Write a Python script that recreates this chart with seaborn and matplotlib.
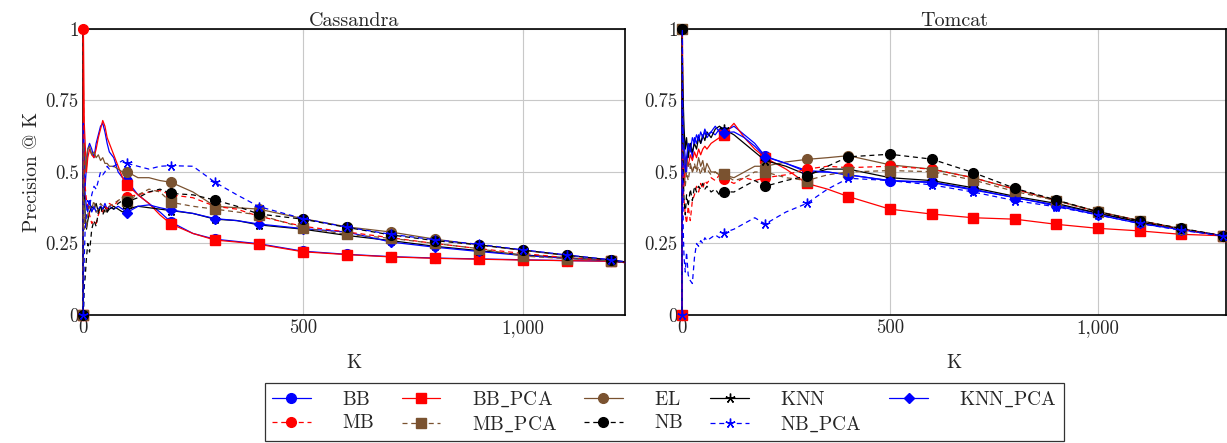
import matplotlib
matplotlib.use("Agg")
import matplotlib.pyplot as plt
from matplotlib.ticker import FuncFormatter, FixedLocator
import seaborn as sns

# ---- data ----
methods = ["BB", "BB_PCA", "EL", "KNN", "KNN_PCA", "MB", "MB_PCA", "NB", "NB_PCA"]

k_cas = [0, 1, 3, 5, 8, 11, 15, 20, 25, 30, 35, 40, 45, 50, 55, 60, 70, 80, 90, 100,
         125, 150, 175, 200, 250, 300, 350, 400, 500, 600, 700, 800, 900, 1000, 1100, 1200, 1232]

cas_bb = [0, 0.67, 0.5, 0.45, 0.52, 0.58, 0.6, 0.58, 0.55, 0.6, 0.63, 0.66, 0.67, 0.64, 0.6, 0.57, 0.55, 0.5, 0.48, 0.47,
          0.42, 0.39, 0.36, 0.325, 0.285, 0.265, 0.257, 0.249, 0.223, 0.212, 0.204, 0.199, 0.196, 0.193, 0.19, 0.188, 0.183]
cas_bb_pca = [0, 1.0, 0.67, 0.6, 0.5, 0.55, 0.58, 0.56, 0.55, 0.58, 0.62, 0.65, 0.68, 0.66, 0.62, 0.6, 0.56, 0.52, 0.48, 0.455,
              0.42, 0.39, 0.35, 0.318, 0.285, 0.262, 0.255, 0.247, 0.221, 0.211, 0.203, 0.198, 0.195, 0.192, 0.19, 0.188, 0.183]
cas_el = [0, 0.5, 0.6, 0.5, 0.55, 0.58, 0.59, 0.56, 0.57, 0.55, 0.56, 0.54, 0.55, 0.53, 0.53, 0.52, 0.52, 0.51, 0.5, 0.501,
          0.48, 0.48, 0.47, 0.464, 0.43, 0.38, 0.375, 0.37, 0.337, 0.308, 0.29, 0.265, 0.245, 0.226, 0.208, 0.193, 0.186]
cas_knn = [0, 0.5, 0.45, 0.35, 0.3, 0.33, 0.36, 0.38, 0.37, 0.39, 0.36, 0.38, 0.37, 0.38, 0.36, 0.37, 0.38, 0.37, 0.36, 0.37,
           0.38, 0.375, 0.37, 0.365, 0.355, 0.335, 0.33, 0.315, 0.3, 0.278, 0.26, 0.24, 0.225, 0.21, 0.2, 0.19, 0.184]
cas_knn_pca = [0, 0.67, 0.5, 0.42, 0.38, 0.36, 0.4, 0.36, 0.38, 0.36, 0.37, 0.38, 0.37, 0.39, 0.37, 0.38, 0.37, 0.38, 0.37, 0.358,
               0.38, 0.385, 0.375, 0.367, 0.355, 0.337, 0.33, 0.318, 0.302, 0.29, 0.255, 0.237, 0.222, 0.208, 0.198, 0.19, 0.184]
cas_mb = [1, 0.8, 0.5, 0.45, 0.4, 0.38, 0.35, 0.32, 0.33, 0.32, 0.35, 0.37, 0.36, 0.38, 0.37, 0.39, 0.38, 0.4, 0.41, 0.414,
          0.42, 0.43, 0.435, 0.42, 0.41, 0.38, 0.37, 0.345, 0.31, 0.29, 0.27, 0.25, 0.232, 0.215, 0.2, 0.19, 0.184]
cas_mb_pca = [0, 0.6, 0.3, 0.35, 0.3, 0.35, 0.38, 0.37, 0.4, 0.36, 0.37, 0.39, 0.38, 0.36, 0.37, 0.38, 0.39, 0.4, 0.41, 0.4,
              0.42, 0.44, 0.43, 0.394, 0.38, 0.37, 0.36, 0.35, 0.305, 0.282, 0.268, 0.25, 0.232, 0.206, 0.197, 0.19, 0.184]
cas_nb = [0, 0.0, 0.1, 0.13, 0.2, 0.25, 0.22, 0.3, 0.33, 0.31, 0.36, 0.38, 0.35, 0.37, 0.36, 0.38, 0.37, 0.39, 0.4, 0.396,
          0.41, 0.43, 0.44, 0.425, 0.42, 0.402, 0.38, 0.353, 0.335, 0.306, 0.28, 0.26, 0.245, 0.227, 0.209, 0.192, 0.185]
cas_nb_pca = [0, 0.0, 0.2, 0.3, 0.35, 0.4, 0.38, 0.42, 0.45, 0.44, 0.47, 0.5, 0.49, 0.5, 0.52, 0.51, 0.52, 0.53, 0.54, 0.53,
              0.52, 0.51, 0.52, 0.522, 0.52, 0.464, 0.42, 0.379, 0.337, 0.307, 0.282, 0.263, 0.247, 0.228, 0.21, 0.193, 0.186]

k_tom = [0, 1, 3, 5, 8, 11, 15, 20, 25, 30, 35, 40, 45, 50, 55, 60, 70, 80, 90, 100,
         125, 150, 175, 200, 250, 300, 350, 400, 500, 600, 700, 800, 900, 1000, 1100, 1200, 1300, 1308]

tom_bb = [0, 0.8, 0.7, 0.6, 0.55, 0.5, 0.58, 0.6, 0.55, 0.62, 0.6, 0.63, 0.6, 0.62, 0.64, 0.62, 0.64, 0.63, 0.65, 0.64,
          0.66, 0.63, 0.6, 0.555, 0.53, 0.5, 0.5, 0.49, 0.47, 0.465, 0.44, 0.41, 0.385, 0.355, 0.325, 0.3, 0.277, 0.275]
tom_bb_pca = [0, 1.0, 0.6, 0.45, 0.5, 0.55, 0.52, 0.56, 0.54, 0.57, 0.55, 0.58, 0.56, 0.58, 0.59, 0.58, 0.6, 0.61, 0.62, 0.63,
              0.67, 0.62, 0.58, 0.55, 0.51, 0.46, 0.44, 0.414, 0.37, 0.353, 0.34, 0.335, 0.317, 0.303, 0.294, 0.282, 0.277, 0.275]
tom_el = [0, 0.7, 0.6, 0.55, 0.5, 0.55, 0.52, 0.53, 0.5, 0.52, 0.51, 0.55, 0.52, 0.54, 0.5, 0.53, 0.5, 0.5, 0.49, 0.49,
          0.48, 0.5, 0.52, 0.52, 0.535, 0.544, 0.55, 0.557, 0.525, 0.51, 0.48, 0.44, 0.4, 0.362, 0.33, 0.302, 0.277, 0.275]
tom_knn = [0, 0.9, 0.75, 0.65, 0.58, 0.62, 0.55, 0.6, 0.57, 0.6, 0.58, 0.62, 0.6, 0.63, 0.61, 0.64, 0.62, 0.65, 0.66, 0.65,
           0.63, 0.6, 0.57, 0.54, 0.52, 0.49, 0.51, 0.51, 0.48, 0.47, 0.445, 0.415, 0.39, 0.356, 0.325, 0.3, 0.277, 0.275]
tom_knn_pca = [0, 0.75, 0.65, 0.55, 0.5, 0.55, 0.6, 0.57, 0.62, 0.6, 0.63, 0.61, 0.64, 0.62, 0.65, 0.63, 0.64, 0.66, 0.64, 0.637,
               0.64, 0.62, 0.59, 0.553, 0.53, 0.505, 0.5, 0.49, 0.469, 0.463, 0.437, 0.411, 0.381, 0.35, 0.32, 0.298, 0.277, 0.275]
tom_mb = [0, 0.6, 0.45, 0.4, 0.35, 0.32, 0.38, 0.33, 0.4, 0.42, 0.45, 0.43, 0.46, 0.44, 0.47, 0.46, 0.48, 0.47, 0.49, 0.477,
          0.46, 0.48, 0.47, 0.48, 0.49, 0.51, 0.52, 0.515, 0.52, 0.51, 0.48, 0.44, 0.4, 0.36, 0.33, 0.3, 0.277, 0.275]
tom_mb_pca = [1, 0.8, 0.6, 0.5, 0.45, 0.5, 0.47, 0.52, 0.5, 0.53, 0.5, 0.52, 0.49, 0.52, 0.5, 0.51, 0.49, 0.5, 0.49, 0.493,
              0.47, 0.48, 0.5, 0.5, 0.48, 0.47, 0.49, 0.5, 0.505, 0.501, 0.472, 0.432, 0.4, 0.36, 0.33, 0.3, 0.277, 0.275]
tom_nb = [1, 0.7, 0.5, 0.4, 0.35, 0.42, 0.38, 0.44, 0.4, 0.45, 0.43, 0.45, 0.44, 0.46, 0.44, 0.45, 0.43, 0.44, 0.42, 0.431,
          0.43, 0.45, 0.47, 0.45, 0.47, 0.486, 0.52, 0.553, 0.562, 0.545, 0.498, 0.443, 0.402, 0.361, 0.329, 0.303, 0.277, 0.275]
tom_nb_pca = [0, 1.0, 0.3, 0.2, 0.15, 0.22, 0.14, 0.12, 0.11, 0.2, 0.25, 0.24, 0.26, 0.25, 0.27, 0.26, 0.27, 0.28, 0.27, 0.287,
              0.3, 0.32, 0.34, 0.318, 0.36, 0.39, 0.44, 0.478, 0.47, 0.455, 0.43, 0.4, 0.378, 0.35, 0.32, 0.296, 0.277, 0.275]

cas_vals = [cas_bb, cas_bb_pca, cas_el, cas_knn, cas_knn_pca, cas_mb, cas_mb_pca, cas_nb, cas_nb_pca]
tom_vals = [tom_bb, tom_bb_pca, tom_el, tom_knn, tom_knn_pca, tom_mb, tom_mb_pca, tom_nb, tom_nb_pca]

# ---- styles ----
BROWN = "#7a5230"
dash = (0, (4, 3))
star = (5, 2, 0)
styles = {
    "BB":      dict(color="blue", linestyle="-", marker="o", ms=7),
    "BB_PCA":  dict(color="red", linestyle="-", marker="s", ms=7),
    "EL":      dict(color=BROWN, linestyle="-", marker="o", ms=7),
    "KNN":     dict(color="black", linestyle="-", marker=star, ms=7),
    "KNN_PCA": dict(color="blue", linestyle="-", marker="D", ms=5.5),
    "MB":      dict(color="red", linestyle=dash, marker="o", ms=7),
    "MB_PCA":  dict(color=BROWN, linestyle=dash, marker="s", ms=7),
    "NB":      dict(color="black", linestyle=dash, marker="o", ms=7),
    "NB_PCA":  dict(color="blue", linestyle=dash, marker=star, ms=7),
}

sns.set_style("white")
plt.rcParams["font.family"] = ["cmr10", "DejaVu Serif"]
plt.rcParams["mathtext.fontset"] = "cm"
plt.rcParams["axes.formatter.use_mathtext"] = True

fig = plt.figure(figsize=(12.27, 4.43), dpi=100)
ax1 = fig.add_axes([0.0676, 0.289, 0.4418, 0.6456])
ax2 = fig.add_axes([0.5558, 0.289, 0.4434, 0.6456])

panels = [(ax1, "Cassandra", k_cas, cas_vals, 1232), (ax2, "Tomcat", k_tom, tom_vals, 1308)]
for ax, title, ks, vals, kmax in panels:
    marks = [i for i, k in enumerate(ks) if k % 100 == 0]
    for name, v in zip(methods, vals):
        st = styles[name]
        sns.lineplot(x=ks, y=v, ax=ax, color=st["color"], linestyle=st["linestyle"],
                     marker=st["marker"], markersize=st["ms"], markevery=marks,
                     markeredgecolor=st["color"], markeredgewidth=1.0,
                     linewidth=0.9, label=name, legend=False, clip_on=False, zorder=3)
    ax.set_xlim(0, kmax)
    ax.set_ylim(0, 1)
    ax.xaxis.set_major_locator(FixedLocator([0, 500, 1000]))
    ax.yaxis.set_major_locator(FixedLocator([0, 0.25, 0.5, 0.75, 1]))
    ax.xaxis.set_major_formatter(FuncFormatter(lambda x, p: f"{x:,.0f}"))
    ax.yaxis.set_major_formatter(FuncFormatter(lambda y, p: f"{y:g}"))
    ax.grid(True, color="#c8c8c8", linewidth=0.8)
    ax.tick_params(direction="in", length=3, width=0.8, labelsize=13.5, pad=3,
                   top=True, right=True, color="#c8c8c8")
    for s in ax.spines.values():
        s.set_color("black")
        s.set_linewidth(1.2)
    ax.set_title(title, fontsize=14.5, pad=2)
    ax.set_xlabel("K", fontsize=14, labelpad=12)
    ax.set_ylabel("")

ax1.set_ylabel("Precision @ K", fontsize=14, labelpad=3)

# legend filled row-wise as in the reference
handles, labels = ax1.get_legend_handles_labels()
order = ["BB", "MB", "BB_PCA", "MB_PCA", "EL", "NB", "KNN", "NB_PCA", "KNN_PCA"]
h = [handles[labels.index(n)] for n in order]
shown = [r"$\mathrm{" + n.replace("_", r"\_") + "}$" for n in order]
leg = fig.legend(h, shown, loc="lower center", bbox_to_anchor=(0.5415, 0.0), ncol=5,
                 frameon=True, fancybox=False, edgecolor="black", fontsize=14,
                 handlelength=2.0, columnspacing=1.4, handletextpad=1.6,
                 borderpad=0.35, labelspacing=0.3, borderaxespad=0.1)
leg.get_frame().set_linewidth(0.9)

fig.savefig("out.png", dpi=100)
